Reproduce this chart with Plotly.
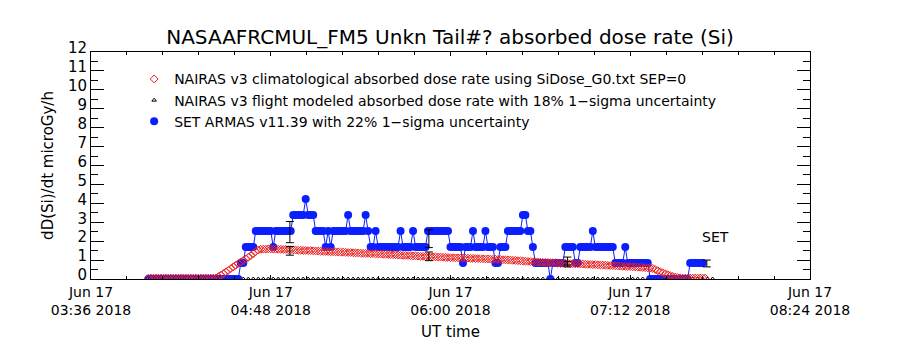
import pandas as pd
import plotly.graph_objects as go

# ---------------- data ----------------
series_start = "2018-06-17 03:59:00"

# SET ARMAS dose rate, one sample per minute from series_start (microGy/h)
set_dose = [
    0, 0, 0, 0, 0, 0, 0, 0, 0, 0,
    0, 0, 0, 0, 0, 0, 0, 0, 0, 0,
    0, 0, 0, 0, 0, 0, 0, 0, 0, 0,
    0, 0, 0, 0, 0, 0, 0,
    0.85, 0.85,
    1.69, 1.69, 1.69, 1.69,
    2.54, 2.54, 2.54, 2.54, 2.54, 2.54, 2.54,
    1.69,
    2.54, 2.54, 2.54, 2.54, 2.54, 2.54, 2.54,
    3.38, 3.38, 3.38, 3.38, 3.38,
    4.23,
    3.38, 3.38, 3.38,
    2.54, 2.54, 2.54, 2.54,
    1.69, 2.54, 1.69,
    2.54, 2.54, 2.54, 2.54, 2.54, 2.54,
    3.38,
    2.54, 2.54, 2.54, 2.54, 2.54, 2.54,
    3.38, 2.54,
    1.69, 1.69,
    2.54,
    1.69, 1.69, 1.69, 1.69, 1.69, 1.69, 1.69, 1.69, 1.69,
    2.54,
    1.69, 1.69, 1.69, 1.69,
    2.54,
    1.69, 1.69, 1.69, 1.69, 1.69,
    2.54, 2.54, 2.54, 2.54, 2.54, 2.54, 2.54, 2.54, 2.54,
    1.69, 1.69, 1.69, 1.69, 1.69,
    0.85,
    1.69, 1.69, 1.69,
    2.54,
    1.69, 1.69, 1.69, 1.69,
    2.54,
    1.69, 1.69, 1.69,
    0.85, 0.85,
    1.69, 1.69, 1.69,
    2.54, 2.54, 2.54, 2.54, 2.54, 2.54,
    3.38, 3.38,
    2.54, 2.54,
    1.69,
    0.85, 0.85, 0.85, 0.85, 0.85, 0.85,
    0,
    0.85, 0.85, 0.85, 0.85, 0.85,
    1.69, 1.69, 1.69, 1.69,
    0.85, 0.85,
    1.69, 1.69, 1.69, 1.69, 1.69,
    2.54,
    1.69, 1.69, 1.69, 1.69, 1.69, 1.69, 1.69, 1.69,
    0.85, 0.85, 0.85, 0.85,
    1.69,
    0.85, 0.85, 0.85, 0.85, 0.85, 0.85, 0.85, 0.85, 0.85,
    0, 0, 0, 0, 0, 0, 0, 0, 0, 0, 0, 0, 0, 0, 0, 0,
    0.85, 0.85, 0.85, 0.85, 0.85, 0.85,
]

# NAIRAS v3 climatological dose rate, one sample per minute from series_start
nairas_clim = [
    0.05, 0.05, 0.05, 0.05, 0.05, 0.05, 0.05, 0.05, 0.05, 0.05,
    0.05, 0.05, 0.05, 0.05, 0.05, 0.05, 0.05, 0.05, 0.05, 0.05,
    0.05, 0.05, 0.05, 0.05, 0.05, 0.05, 0.05,
    0.05, 0.12, 0.20, 0.28, 0.37, 0.46, 0.55, 0.64, 0.73, 0.82,
    0.90, 0.98, 1.06, 1.15, 1.24, 1.34, 1.45, 1.53, 1.57,
    1.58, 1.58, 1.59, 1.59, 1.58, 1.58, 1.57, 1.57, 1.56, 1.56,
    1.55, 1.55, 1.54, 1.53, 1.52,
    1.52, 1.51, 1.51, 1.50, 1.50, 1.49, 1.48, 1.48, 1.47, 1.46,
    1.46, 1.45, 1.44,
    1.44, 1.43, 1.43, 1.42, 1.42, 1.41, 1.40, 1.40, 1.39, 1.38,
    1.38, 1.37, 1.36, 1.36, 1.35, 1.34, 1.34, 1.33, 1.33, 1.32,
    1.31, 1.31, 1.30, 1.29, 1.28, 1.28, 1.27, 1.26, 1.25, 1.25,
    1.24, 1.23, 1.22, 1.22, 1.21, 1.20, 1.20, 1.19, 1.19, 1.18,
    1.17, 1.17, 1.16, 1.16, 1.15, 1.14, 1.14, 1.13, 1.13, 1.12,
    1.12, 1.11, 1.11, 1.10, 1.10, 1.09, 1.09, 1.08, 1.08, 1.07,
    1.07, 1.06, 1.06, 1.05, 1.04, 1.04, 1.03, 1.03, 1.02, 1.01,
    1.01, 1.00,
    0.99, 0.98, 0.97, 0.96, 0.95, 0.94, 0.93, 0.92,
    0.91, 0.91, 0.90, 0.89, 0.88, 0.88, 0.87, 0.86, 0.86, 0.85,
    0.84, 0.83,
    0.83, 0.82, 0.82, 0.81, 0.81, 0.80, 0.80, 0.79, 0.79, 0.78,
    0.77, 0.77, 0.76, 0.76, 0.75, 0.74,
    0.74, 0.73, 0.72, 0.71, 0.71, 0.70, 0.69, 0.68, 0.67, 0.67,
    0.66, 0.65, 0.64, 0.64, 0.63, 0.62,
    0.61, 0.60, 0.59, 0.58, 0.56,
    0.50, 0.44, 0.38, 0.33, 0.28,
    0.23, 0.18, 0.14, 0.10, 0.08, 0.06,
    0.05, 0.05, 0.05, 0.05, 0.05, 0.05, 0.05, 0.05, 0.05, 0.05,
]

# NAIRAS v3 flight-modeled dose rate, one sample every 2 minutes (plotted at ~0)
flight_dose = [
    0, 0, 0, 0, 0, 0, 0, 0, 0, 0, 0, 0, 0, 0, 0, 0, 0, 0, 0,
    0, 0, 0, 0, 0, 0, 0, 0, 0, 0, 0, 0, 0, 0, 0, 0, 0, 0, 0,
    0, 0, 0, 0, 0, 0, 0, 0, 0, 0, 0, 0, 0, 0, 0, 0, 0, 0, 0,
    0, 0, 0, 0, 0, 0, 0, 0, 0, 0, 0, 0, 0, 0, 0, 0, 0, 0, 0,
    0, 0, 0, 0, 0, 0, 0, 0, 0, 0, 0, 0, 0, 0, 0, 0, 0, 0, 0,
    0, 0, 0, 0, 0, 0, 0, 0, 0, 0, 0, 0, 0, 0, 0, 0, 0, 0, 0,
]

# uncertainty checkpoints
set_check_time = ["2018-06-17 04:55:40", "2018-06-17 05:51:20",
                  "2018-06-17 06:46:50", "2018-06-17 07:42:40"]
set_check_val = [2.48, 2.13, 0.95, 0.82]
set_check_err = [0.56, 0.47, 0.21, 0.18]
flight_check_time = ["2018-06-17 04:55:40", "2018-06-17 05:51:20",
                     "2018-06-17 06:46:50"]
flight_check_val = [1.49, 1.20, 0.78]
flight_check_err = [0.23, 0.23, 0.14]

# axis ticks
x_tick_vals = ["2018-06-17 03:36", "2018-06-17 04:48", "2018-06-17 06:00",
               "2018-06-17 07:12", "2018-06-17 08:24"]
x_tick_text = ["Jun 17<br>03:36 2018", "Jun 17<br>04:48 2018", "Jun 17<br>06:00 2018",
               "Jun 17<br>07:12 2018", "Jun 17<br>08:24 2018"]
y_tick_vals = list(range(0, 13))

set_time = pd.date_range(series_start, periods=len(set_dose), freq="1min")
clim_time = pd.date_range(series_start, periods=len(nairas_clim), freq="1min")
flight_time = pd.date_range(series_start, periods=len(flight_dose), freq="2min")

# ---------------- figure ----------------
FONT = "DejaVu Sans"
BLUE = "#0a1eff"
RED = "#ee1c1c"

fig = go.Figure()

fig.add_trace(go.Scatter(
    x=flight_time, y=flight_dose, mode="markers",
    name="NAIRAS v3 flight modeled absorbed dose rate with 18% 1\u2212sigma uncertainty",
    marker=dict(symbol="triangle-up-open", size=4, color="black", line=dict(width=1)),
    legendrank=2,
))
fig.add_trace(go.Scatter(
    x=set_time, y=set_dose, mode="lines", showlegend=False,
    line=dict(color=BLUE, width=1), hoverinfo="skip",
))
fig.add_trace(go.Scatter(
    x=set_time, y=set_dose, mode="markers",
    name="SET ARMAS v11.39 with 22% 1\u2212sigma uncertainty",
    marker=dict(symbol="circle", size=8, color=BLUE, line=dict(width=0)),
    legendrank=3,
))
fig.add_trace(go.Scatter(
    x=clim_time, y=nairas_clim, mode="markers",
    name="NAIRAS v3 climatological absorbed dose rate using SiDose_G0.txt SEP=0",
    marker=dict(symbol="diamond-open", size=6, color=RED, line=dict(width=1, color=RED)),
    legendrank=1,
))
fig.add_trace(go.Scatter(
    x=set_check_time, y=set_check_val, mode="markers", showlegend=False,
    marker=dict(size=1, color="rgba(0,0,0,0)"),
    error_y=dict(type="data", array=set_check_err, color="black", thickness=1, width=4),
))
fig.add_trace(go.Scatter(
    x=flight_check_time, y=flight_check_val, mode="markers", showlegend=False,
    marker=dict(size=1, color="rgba(0,0,0,0)"),
    error_y=dict(type="data", array=flight_check_err, color="black", thickness=1, width=4),
))

fig.add_annotation(x="2018-06-17 07:46:00", y=2.22, text="SET", showarrow=False,
                   font=dict(family=FONT, size=14, color="black"),
                   xanchor="center", yanchor="middle")

fig.update_layout(
    width=900, height=350,
    margin=dict(l=91, r=90, t=52, b=71),
    paper_bgcolor="white", plot_bgcolor="white",
    font=dict(family=FONT, color="black"),
    title=dict(text="NASAAFRCMUL_FM5 Unkn Tail#? absorbed dose rate (Si)",
               x=0.5, xanchor="center", y=1 - 37 / 350, yanchor="middle",
               yref="container", font=dict(family=FONT, size=20, color="black")),
    legend=dict(x=0.06, y=0.95, xanchor="left", yanchor="top",
                bgcolor="rgba(0,0,0,0)", font=dict(family=FONT, size=14, color="black"),
                itemwidth=30, tracegroupgap=0),
    showlegend=True,
)

fig.update_xaxes(
    type="date", range=["2018-06-17 03:36", "2018-06-17 08:24"],
    tickmode="array", tickvals=x_tick_vals, ticktext=x_tick_text,
    ticks="inside", ticklen=4, tickcolor="black",
    showline=True, linecolor="black", linewidth=1, mirror="ticks",
    showgrid=False, zeroline=False,
    tickfont=dict(family=FONT, size=14, color="black"),
    minor=dict(tickmode="linear", tick0="2018-06-17 03:36", dtick=864000,
               ticks="inside", ticklen=3, tickcolor="black", showgrid=False),
    title=dict(text="UT time", font=dict(family=FONT, size=15, color="black"), standoff=9),
)
fig.update_yaxes(
    range=[0, 12], tickmode="array", tickvals=y_tick_vals,
    ticks="inside", ticklen=13, tickcolor="black",
    showline=True, linecolor="black", linewidth=1, mirror="ticks",
    showgrid=False, zeroline=False,
    tickfont=dict(family=FONT, size=15, color="black"),
    ticklabelshift=-4,
    minor=dict(tickmode="linear", tick0=0, dtick=0.5, ticks="inside", ticklen=7,
               tickcolor="black", showgrid=False),
    title=dict(text="dD(Si)/dt microGy/h", font=dict(family=FONT, size=15, color="black"),
               standoff=10),
)

fig.write_html("out.html")
